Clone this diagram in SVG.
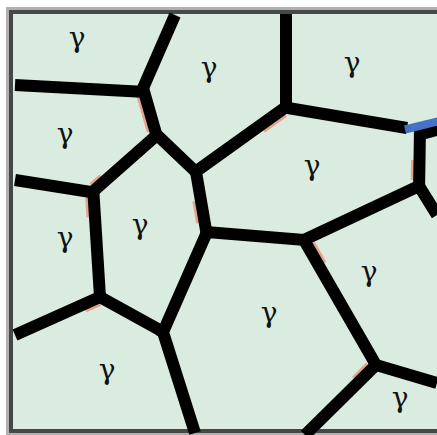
<svg xmlns="http://www.w3.org/2000/svg" width="437" height="435" viewBox="0 0 437 435">
<style>
.gb{stroke:#000;stroke-width:12;fill:none;stroke-linecap:butt;stroke-linejoin:miter}
.tint{stroke:#e7967f;stroke-width:13;fill:none;stroke-linecap:butt;opacity:0.85}
.lbl{font-family:"DejaVu Serif","Liberation Serif",serif;font-size:28px;fill:#111;text-anchor:middle}
</style>
<rect width="437" height="435" fill="#fff"/>
<rect x="9" y="10" width="440" height="423" fill="none" stroke="#b0b0b0" stroke-width="6"/>
<rect x="11" y="12" width="440" height="419" fill="#d9ecdf" stroke="#474747" stroke-width="4"/>
<g id="connectors">
<line class="tint" x1="143" y1="95.5" x2="153" y2="130.5"/>
<line class="tint" x1="91.7" y1="197" x2="93" y2="217"/>
<line class="tint" x1="103.7" y1="179.5" x2="93.7" y2="188.2"/>
<line class="tint" x1="283.2" y1="111.5" x2="261.2" y2="127.2"/>
<line class="tint" x1="417.5" y1="160" x2="417.2" y2="180"/>
<line class="tint" x1="98.8" y1="299.7" x2="83.8" y2="306.4"/>
<line class="tint" x1="309.2" y1="245" x2="320.7" y2="265"/>
<line class="tint" x1="370.6" y1="367.5" x2="356.6" y2="381.3"/>
<line class="tint" x1="198.8" y1="200.3" x2="202.6" y2="222.3"/>
<line class="gb" x1="15" y1="85" x2="146" y2="92"/>
<line class="gb" x1="175" y1="15" x2="140" y2="95"/>
<line class="gb" x1="143" y1="88" x2="157" y2="137"/>
<polyline class="gb" points="89,195 157,135 197,173"/>
<line class="gb" x1="15" y1="180" x2="97" y2="193"/>
<polyline class="gb" points="93,186 100,297 15,335"/>
<line class="gb" x1="100" y1="297" x2="167" y2="334"/>
<polyline class="gb" points="191,175 286,107 286,14"/>
<line class="gb" x1="195" y1="166" x2="207" y2="236"/>
<line class="gb" x1="282" y1="107" x2="407" y2="128"/>
<line class="gb" x1="420" y1="128" x2="419" y2="192"/>
<line class="gb" x1="418" y1="135" x2="440" y2="129"/>
<line x1="405" y1="129.5" x2="440" y2="121" stroke="#4472c4" stroke-width="8"/>
<polyline class="gb" points="437,215 419,186 304,240 207,232 163,332 195,433"/>
<line class="gb" x1="159" y1="330" x2="167" y2="334"/>
<polyline class="gb" points="304,240 376,365 437,383"/>
<line class="gb" x1="380" y1="361" x2="305" y2="435"/>
</g>
<g id="g1"><text class="lbl" x="77" y="47">γ</text></g>
<g id="g2"><text class="lbl" x="209" y="77">γ</text></g>
<g id="g3"><text class="lbl" x="352" y="72">γ</text></g>
<g id="g4"><text class="lbl" x="65" y="143">γ</text></g>
<g id="g5"><text class="lbl" x="312" y="175">γ</text></g>
<g id="g6"><text class="lbl" x="140" y="234">γ</text></g>
<g id="g7"><text class="lbl" x="65" y="247">γ</text></g>
<g id="g8"><text class="lbl" x="369" y="281">γ</text></g>
<g id="g9"><text class="lbl" x="269" y="322">γ</text></g>
<g id="g10"><text class="lbl" x="107" y="379">γ</text></g>
<g id="g11"><text class="lbl" x="400" y="407">γ</text></g>
</svg>
